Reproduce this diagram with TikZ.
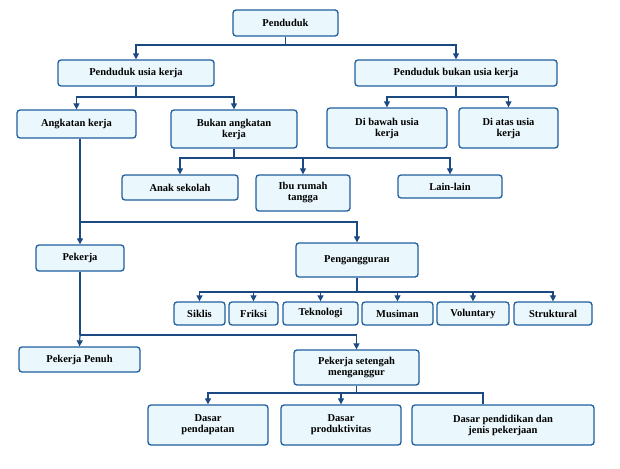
\documentclass[tikz,border=0pt]{standalone}
\usepackage{fontspec}
\setmainfont{Liberation Serif}
\usetikzlibrary{arrows.meta}
\definecolor{bfill}{HTML}{EAF7FC}
\definecolor{bdraw}{HTML}{1F5E9E}
\definecolor{ln}{HTML}{1B4A82}
\begin{document}
\begin{tikzpicture}[x=1pt,y=-1pt,
 bx/.style={draw=bdraw,fill=bfill,line width=1.3pt,rounded corners=3pt,align=center,
   font=\fontsize{10.5}{11}\selectfont\bfseries,inner sep=1pt,anchor=center},
 ar/.style={ln,line width=1.2pt,-{Triangle[width=6pt,length=6pt]}},
 pl/.style={ln,line width=1.2pt}]
\useasboundingbox (0,0) rectangle (620,468);
\newcommand{\B}[6]{\node[bx,minimum width=#3-#2,minimum height=#5-#4] (#1) at ({(#2+#3)/2},{(#4+#5)/2}) {#6};}
\B{pen}{233}{338}{10}{36}{Penduduk}
\B{puk}{58}{214}{60}{86}{Penduduk usia kerja}
\B{pbuk}{355}{557}{60}{86}{Penduduk bukan usia kerja}
\B{ak}{17}{136}{110}{138}{Angkatan kerja}
\B{bak}{171}{297}{110}{148}{Bukan angkatan\\kerja}
\B{dbu}{327}{447}{108}{148}{Di bawah usia\\kerja}
\B{dau}{459}{558}{108}{148}{Di atas usia\\kerja}
\B{as}{122}{238}{175}{200}{Anak sekolah}
\B{irt}{256}{350}{175}{211}{Ibu rumah\\tangga}
\B{ll}{398}{502}{175}{198}{Lain-lain}
\B{pek}{36}{124}{245}{271}{Pekerja}
\B{png}{296}{418}{243}{277}{Penganggurан}
\B{s1}{174}{225}{302}{325}{Siklis}
\B{s2}{229}{278}{302}{325}{Friksi}
\B{s3}{283}{358}{302}{325}{Teknologi}
\B{s4}{362}{433}{302}{325}{Musiman}
\B{s5}{437}{509}{302}{325}{Voluntary}
\B{s6}{514}{592}{302}{325}{Struktural}
\B{pp}{19}{140}{347}{372}{Pekerja Penuh}
\B{psm}{294}{419}{350}{385}{Pekerja setengah\\menganggur}
\B{d1}{148}{268}{405}{445}{Dasar\\pendapatan}
\B{d2}{281}{401}{405}{445}{Dasar\\produktivitas}
\B{d3}{412}{594}{405}{445}{Dasar pendidikan dan\\jenis pekerjaan}
% connectors
\draw[pl] (pen.south) -- (pen.south|-0,45) coordinate (j1);
\draw[ar] (j1) -| (puk.north);
\draw[ar] (j1) -| (pbuk.north);
\draw[pl] (puk.south) -- (puk.south|-0,97) coordinate (j2);
\draw[ar] (j2) -| (ak.north);
\draw[ar] (j2) -| (bak.north);
\draw[pl] (pbuk.south) -- (pbuk.south|-0,97) coordinate (j3);
\draw[ar] (j3) -| (dbu.north);
\draw[ar] (j3) -| (dau.north);
\draw[pl] (bak.south) -- (bak.south|-0,158) coordinate (j4);
\draw[ar] (j4) -| (as.north);
\draw[ar] (j4) -| (irt.north);
\draw[ar] (j4) -| (ll.north);
\coordinate (j5) at (80,222);
\draw[pl] (ak.south-|j5) -- (j5);
\draw[ar] (j5) -- (pek.north);
\draw[ar] (j5) -| (png.north);
\draw[pl] (png.south) -- (png.south|-0,292) coordinate (j6);
\foreach \s in {s1,s2,s3,s4,s5,s6} \draw[ar] (j6) -| (\s.north);
\coordinate (j7) at (80,335);
\draw[pl] (pek.south) -- (j7);
\draw[ar] (j7) -- (pp.north);
\draw[ar] (j7) -| (psm.north);
\draw[pl] (psm.south) -- (psm.south|-0,393) coordinate (j8);
\draw[ar] (j8) -| (d1.north);
\draw[ar] (j8) -- (d2.north|-j8) -- (d2.north);
\draw[pl] (j8) -| ([xshift=-20pt]d3.north);
\end{tikzpicture}
\end{document}
